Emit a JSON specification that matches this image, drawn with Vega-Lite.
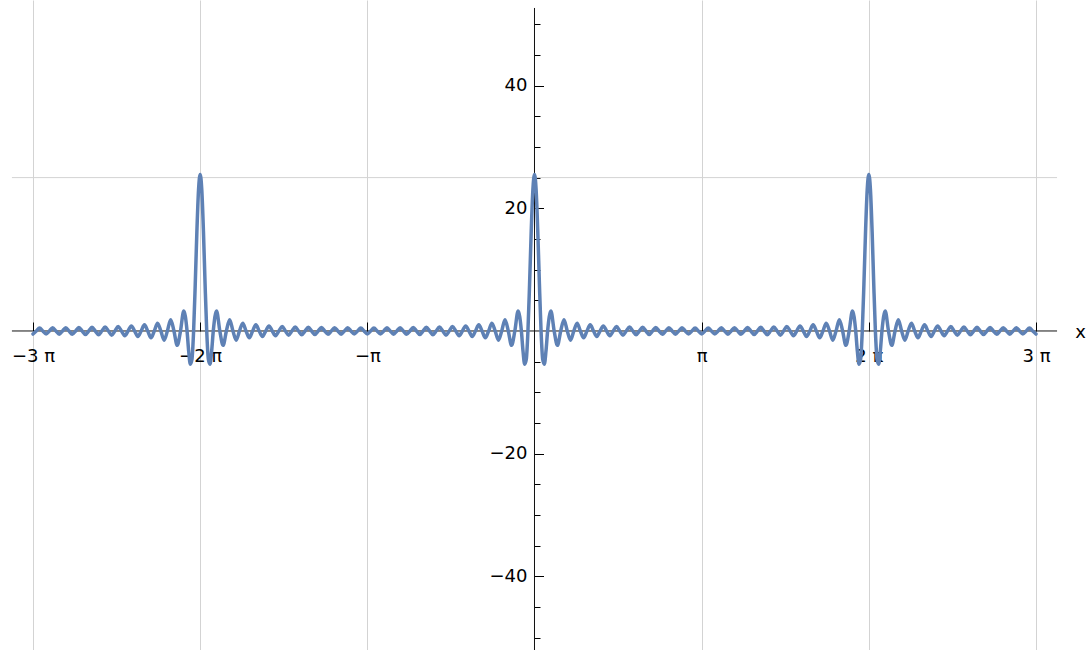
{
 "$schema": "https://vega.github.io/schema/vega-lite/v6.json",
 "width": 1092, "height": 650, "padding": 0, "autosize": {"type": "none"},
 "background": "white",
 "config": {"view": {"stroke": null}, "font": "DejaVu Sans",
   "axis": {"labelFont": "DejaVu Sans", "labelFontSize": 18, "labelColor": "#000", "titleFont": "DejaVu Sans", "tickColor": "#000", "tickWidth": 1}},
 "resolve": {"axis": {"x": "independent", "y": "independent"}},
 "layer": [
  {
   "data": {"values": [{"x1": -3.126, "x2": 3.126, "y": 25}]},
   "mark": {"type": "rule", "color": "#d3d3d3", "strokeWidth": 1},
   "encoding": {
     "x": {"field": "x1", "type": "quantitative", "scale": {"domain": [-3.1974, 3.335], "nice": false, "zero": false},
           "axis": {"orient": "bottom", "values": [-3,-2,-1,1,2,3], "grid": true, "gridColor": "#d3d3d3", "gridWidth": 1, "ticks": false, "labels": false, "domain": false, "title": null}},
     "x2": {"field": "x2"},
     "y": {"field": "y", "type": "quantitative", "scale": {"domain": [-52, 53.95], "nice": false, "zero": false},
           "axis": {"orient": "left", "offset": -534.5, "values": [-40,-20,20,40], "ticks": false, "domain": false, "grid": false, "labelPadding": 7.5, "title": null}}
   }
  },
  {
   "data": {"values": [{"x1": -3.126, "x2": 3.126, "y1": 0, "y2": 0}, {"x1": 0, "x2": 0, "y1": -52, "y2": 52.65}]},
   "mark": {"type": "rule", "color": "#111111", "strokeWidth": 1},
   "encoding": {
     "x": {"field": "x1", "type": "quantitative", "scale": {"domain": [-3.1974, 3.335], "nice": false, "zero": false},
           "axis": {"orient": "bottom", "offset": -319, "values": [-3,-2,-1,1,2,3], "ticks": false, "domain": false, "grid": false, "labelPadding": 16, "labelBaseline": "top",
                    "labelExpr": "datum.value == -3 ? '−3 π' : datum.value == -2 ? '−2 π' : datum.value == -1 ? '−π' : datum.value == 1 ? 'π' : datum.value == 2 ? '2 π' : '3 π'",
                    "title": "x", "titleX": 1080, "titleY": 1, "titleBaseline": "middle", "titleAlign": "center", "titleFontSize": 18, "titleFontWeight": "normal", "titleColor": "#000"}},
     "x2": {"field": "x2"},
     "y": {"field": "y1", "type": "quantitative", "scale": {"domain": [-52, 53.95], "nice": false, "zero": false},
           "axis": {"orient": "right", "offset": -557.5, "values": [-50,-45,-40,-35,-30,-25,-20,-15,-10,-5,5,10,15,20,25,30,35,40,45,50], "tickSize": 5.5, "labels": false, "domain": false, "grid": false, "title": null}},
     "y2": {"field": "y2"}
   }
  },
  {
   "data": {"values": [
{"x":-3,"y":-0.5},{"x":-2.98039,"y":0},{"x":-2.96078,"y":0.5},{"x":-2.94118,"y":0},{"x":-2.92157,"y":-0.5},{"x":-2.90196,"y":0},{"x":-2.88235,"y":0.51},{"x":-2.86275,"y":0},{"x":-2.84314,"y":-0.52},{"x":-2.82353,"y":0},{"x":-2.80392,"y":0.52},{"x":-2.78431,"y":0},{"x":-2.76471,"y":-0.54},{"x":-2.7451,"y":0},{"x":-2.72549,"y":0.55},{"x":-2.70588,"y":0},{"x":-2.68627,"y":-0.57},{"x":-2.66667,"y":0},{"x":-2.64706,"y":0.59},{"x":-2.62745,"y":0},{"x":-2.60784,"y":-0.61},{"x":-2.58824,"y":0},{"x":-2.56863,"y":0.64},{"x":-2.54902,"y":0},{"x":-2.52941,"y":-0.68},{"x":-2.5098,"y":0},{"x":-2.4902,"y":0.72},{"x":-2.47059,"y":0},{"x":-2.45098,"y":-0.77},{"x":-2.43137,"y":0},{"x":-2.41176,"y":0.83},{"x":-2.39216,"y":0},{"x":-2.37255,"y":-0.91},{"x":-2.35294,"y":0},{"x":-2.33333,"y":1.0},{"x":-2.31373,"y":0},{"x":-2.29412,"y":-1.12},{"x":-2.27451,"y":0},{"x":-2.2549,"y":1.28},{"x":-2.23529,"y":0},{"x":-2.21569,"y":-1.5},{"x":-2.19608,"y":0},{"x":-2.17647,"y":1.83},{"x":-2.15686,"y":0},{"x":-2.13725,"y":-2.34},{"x":-2.11765,"y":0},{"x":-2.09804,"y":3.26},{"x":-2.07843,"y":0},{"x":-2.06863,"y":-3.29},{"x":-2.05882,"y":-5.42},{"x":-2.04902,"y":-4.6},{"x":-2.03922,"y":0},{"x":-2.02941,"y":7.66},{"x":-2.01961,"y":16.24},{"x":-2.0098,"y":22.96},{"x":-2,"y":25.5},
{"x":-1.9902,"y":22.96},{"x":-1.98039,"y":16.24},{"x":-1.97059,"y":7.66},{"x":-1.96078,"y":0},{"x":-1.95098,"y":-4.6},{"x":-1.94118,"y":-5.42},{"x":-1.93137,"y":-3.29},{"x":-1.92157,"y":0},{"x":-1.90196,"y":3.26},{"x":-1.88235,"y":0},{"x":-1.86275,"y":-2.34},{"x":-1.84314,"y":0},{"x":-1.82353,"y":1.83},{"x":-1.80392,"y":0},{"x":-1.78431,"y":-1.5},{"x":-1.76471,"y":0},{"x":-1.7451,"y":1.28},{"x":-1.72549,"y":0},{"x":-1.70588,"y":-1.12},{"x":-1.68627,"y":0},{"x":-1.66667,"y":1.0},{"x":-1.64706,"y":0},{"x":-1.62745,"y":-0.91},{"x":-1.60784,"y":0},{"x":-1.58824,"y":0.83},{"x":-1.56863,"y":0},{"x":-1.54902,"y":-0.77},{"x":-1.52941,"y":0},{"x":-1.5098,"y":0.72},{"x":-1.4902,"y":0},{"x":-1.47059,"y":-0.68},{"x":-1.45098,"y":0},{"x":-1.43137,"y":0.64},{"x":-1.41176,"y":0},{"x":-1.39216,"y":-0.61},{"x":-1.37255,"y":0},{"x":-1.35294,"y":0.59},{"x":-1.33333,"y":0},{"x":-1.31373,"y":-0.57},{"x":-1.29412,"y":0},{"x":-1.27451,"y":0.55},{"x":-1.2549,"y":0},{"x":-1.23529,"y":-0.54},{"x":-1.21569,"y":0},{"x":-1.19608,"y":0.52},{"x":-1.17647,"y":0},{"x":-1.15686,"y":-0.52},{"x":-1.13725,"y":0},{"x":-1.11765,"y":0.51},{"x":-1.09804,"y":0},{"x":-1.07843,"y":-0.5},{"x":-1.05882,"y":0},{"x":-1.03922,"y":0.5},{"x":-1.01961,"y":0},{"x":-1,"y":-0.5},
{"x":-0.98039,"y":0},{"x":-0.96078,"y":0.5},{"x":-0.94118,"y":0},{"x":-0.92157,"y":-0.5},{"x":-0.90196,"y":0},{"x":-0.88235,"y":0.51},{"x":-0.86275,"y":0},{"x":-0.84314,"y":-0.52},{"x":-0.82353,"y":0},{"x":-0.80392,"y":0.52},{"x":-0.78431,"y":0},{"x":-0.76471,"y":-0.54},{"x":-0.7451,"y":0},{"x":-0.72549,"y":0.55},{"x":-0.70588,"y":0},{"x":-0.68627,"y":-0.57},{"x":-0.66667,"y":0},{"x":-0.64706,"y":0.59},{"x":-0.62745,"y":0},{"x":-0.60784,"y":-0.61},{"x":-0.58824,"y":0},{"x":-0.56863,"y":0.64},{"x":-0.54902,"y":0},{"x":-0.52941,"y":-0.68},{"x":-0.5098,"y":0},{"x":-0.4902,"y":0.72},{"x":-0.47059,"y":0},{"x":-0.45098,"y":-0.77},{"x":-0.43137,"y":0},{"x":-0.41176,"y":0.83},{"x":-0.39216,"y":0},{"x":-0.37255,"y":-0.91},{"x":-0.35294,"y":0},{"x":-0.33333,"y":1.0},{"x":-0.31373,"y":0},{"x":-0.29412,"y":-1.12},{"x":-0.27451,"y":0},{"x":-0.2549,"y":1.28},{"x":-0.23529,"y":0},{"x":-0.21569,"y":-1.5},{"x":-0.19608,"y":0},{"x":-0.17647,"y":1.83},{"x":-0.15686,"y":0},{"x":-0.13725,"y":-2.34},{"x":-0.11765,"y":0},{"x":-0.09804,"y":3.26},{"x":-0.07843,"y":0},{"x":-0.06863,"y":-3.29},{"x":-0.05882,"y":-5.42},{"x":-0.04902,"y":-4.6},{"x":-0.03922,"y":0},{"x":-0.02941,"y":7.66},{"x":-0.01961,"y":16.24},{"x":-0.0098,"y":22.96},{"x":0,"y":25.5},
{"x":0.0098,"y":22.96},{"x":0.01961,"y":16.24},{"x":0.02941,"y":7.66},{"x":0.03922,"y":0},{"x":0.04902,"y":-4.6},{"x":0.05882,"y":-5.42},{"x":0.06863,"y":-3.29},{"x":0.07843,"y":0},{"x":0.09804,"y":3.26},{"x":0.11765,"y":0},{"x":0.13725,"y":-2.34},{"x":0.15686,"y":0},{"x":0.17647,"y":1.83},{"x":0.19608,"y":0},{"x":0.21569,"y":-1.5},{"x":0.23529,"y":0},{"x":0.2549,"y":1.28},{"x":0.27451,"y":0},{"x":0.29412,"y":-1.12},{"x":0.31373,"y":0},{"x":0.33333,"y":1.0},{"x":0.35294,"y":0},{"x":0.37255,"y":-0.91},{"x":0.39216,"y":0},{"x":0.41176,"y":0.83},{"x":0.43137,"y":0},{"x":0.45098,"y":-0.77},{"x":0.47059,"y":0},{"x":0.4902,"y":0.72},{"x":0.5098,"y":0},{"x":0.52941,"y":-0.68},{"x":0.54902,"y":0},{"x":0.56863,"y":0.64},{"x":0.58824,"y":0},{"x":0.60784,"y":-0.61},{"x":0.62745,"y":0},{"x":0.64706,"y":0.59},{"x":0.66667,"y":0},{"x":0.68627,"y":-0.57},{"x":0.70588,"y":0},{"x":0.72549,"y":0.55},{"x":0.7451,"y":0},{"x":0.76471,"y":-0.54},{"x":0.78431,"y":0},{"x":0.80392,"y":0.52},{"x":0.82353,"y":0},{"x":0.84314,"y":-0.52},{"x":0.86275,"y":0},{"x":0.88235,"y":0.51},{"x":0.90196,"y":0},{"x":0.92157,"y":-0.5},{"x":0.94118,"y":0},{"x":0.96078,"y":0.5},{"x":0.98039,"y":0},{"x":1,"y":-0.5},
{"x":1.01961,"y":0},{"x":1.03922,"y":0.5},{"x":1.05882,"y":0},{"x":1.07843,"y":-0.5},{"x":1.09804,"y":0},{"x":1.11765,"y":0.51},{"x":1.13725,"y":0},{"x":1.15686,"y":-0.52},{"x":1.17647,"y":0},{"x":1.19608,"y":0.52},{"x":1.21569,"y":0},{"x":1.23529,"y":-0.54},{"x":1.2549,"y":0},{"x":1.27451,"y":0.55},{"x":1.29412,"y":0},{"x":1.31373,"y":-0.57},{"x":1.33333,"y":0},{"x":1.35294,"y":0.59},{"x":1.37255,"y":0},{"x":1.39216,"y":-0.61},{"x":1.41176,"y":0},{"x":1.43137,"y":0.64},{"x":1.45098,"y":0},{"x":1.47059,"y":-0.68},{"x":1.4902,"y":0},{"x":1.5098,"y":0.72},{"x":1.52941,"y":0},{"x":1.54902,"y":-0.77},{"x":1.56863,"y":0},{"x":1.58824,"y":0.83},{"x":1.60784,"y":0},{"x":1.62745,"y":-0.91},{"x":1.64706,"y":0},{"x":1.66667,"y":1.0},{"x":1.68627,"y":0},{"x":1.70588,"y":-1.12},{"x":1.72549,"y":0},{"x":1.7451,"y":1.28},{"x":1.76471,"y":0},{"x":1.78431,"y":-1.5},{"x":1.80392,"y":0},{"x":1.82353,"y":1.83},{"x":1.84314,"y":0},{"x":1.86275,"y":-2.34},{"x":1.88235,"y":0},{"x":1.90196,"y":3.26},{"x":1.92157,"y":0},{"x":1.93137,"y":-3.29},{"x":1.94118,"y":-5.42},{"x":1.95098,"y":-4.6},{"x":1.96078,"y":0},{"x":1.97059,"y":7.66},{"x":1.98039,"y":16.24},{"x":1.9902,"y":22.96},{"x":2,"y":25.5},
{"x":2.0098,"y":22.96},{"x":2.01961,"y":16.24},{"x":2.02941,"y":7.66},{"x":2.03922,"y":0},{"x":2.04902,"y":-4.6},{"x":2.05882,"y":-5.42},{"x":2.06863,"y":-3.29},{"x":2.07843,"y":0},{"x":2.09804,"y":3.26},{"x":2.11765,"y":0},{"x":2.13725,"y":-2.34},{"x":2.15686,"y":0},{"x":2.17647,"y":1.83},{"x":2.19608,"y":0},{"x":2.21569,"y":-1.5},{"x":2.23529,"y":0},{"x":2.2549,"y":1.28},{"x":2.27451,"y":0},{"x":2.29412,"y":-1.12},{"x":2.31373,"y":0},{"x":2.33333,"y":1.0},{"x":2.35294,"y":0},{"x":2.37255,"y":-0.91},{"x":2.39216,"y":0},{"x":2.41176,"y":0.83},{"x":2.43137,"y":0},{"x":2.45098,"y":-0.77},{"x":2.47059,"y":0},{"x":2.4902,"y":0.72},{"x":2.5098,"y":0},{"x":2.52941,"y":-0.68},{"x":2.54902,"y":0},{"x":2.56863,"y":0.64},{"x":2.58824,"y":0},{"x":2.60784,"y":-0.61},{"x":2.62745,"y":0},{"x":2.64706,"y":0.59},{"x":2.66667,"y":0},{"x":2.68627,"y":-0.57},{"x":2.70588,"y":0},{"x":2.72549,"y":0.55},{"x":2.7451,"y":0},{"x":2.76471,"y":-0.54},{"x":2.78431,"y":0},{"x":2.80392,"y":0.52},{"x":2.82353,"y":0},{"x":2.84314,"y":-0.52},{"x":2.86275,"y":0},{"x":2.88235,"y":0.51},{"x":2.90196,"y":0},{"x":2.92157,"y":-0.5},{"x":2.94118,"y":0},{"x":2.96078,"y":0.5},{"x":2.98039,"y":0},{"x":3,"y":-0.5}
   ]},
   "mark": {"type": "line", "color": "#5E81B5", "strokeWidth": 3.5, "interpolate": "monotone", "strokeJoin": "round", "strokeCap": "round"},
   "encoding": {
     "x": {"field": "x", "type": "quantitative", "scale": {"domain": [-3.1974, 3.335], "nice": false, "zero": false},
           "axis": {"orient": "top", "offset": -331, "values": [-3,-2,-1,1,2,3], "tickSize": 9, "labels": false, "domain": false, "grid": false, "title": null}},
     "y": {"field": "y", "type": "quantitative", "scale": {"domain": [-52, 53.95], "nice": false, "zero": false},
           "axis": {"orient": "right", "offset": -557.5, "values": [-40,-20,20,40], "tickSize": 9, "labels": false, "domain": false, "grid": false, "title": null}}
   }
  }
 ]
}
